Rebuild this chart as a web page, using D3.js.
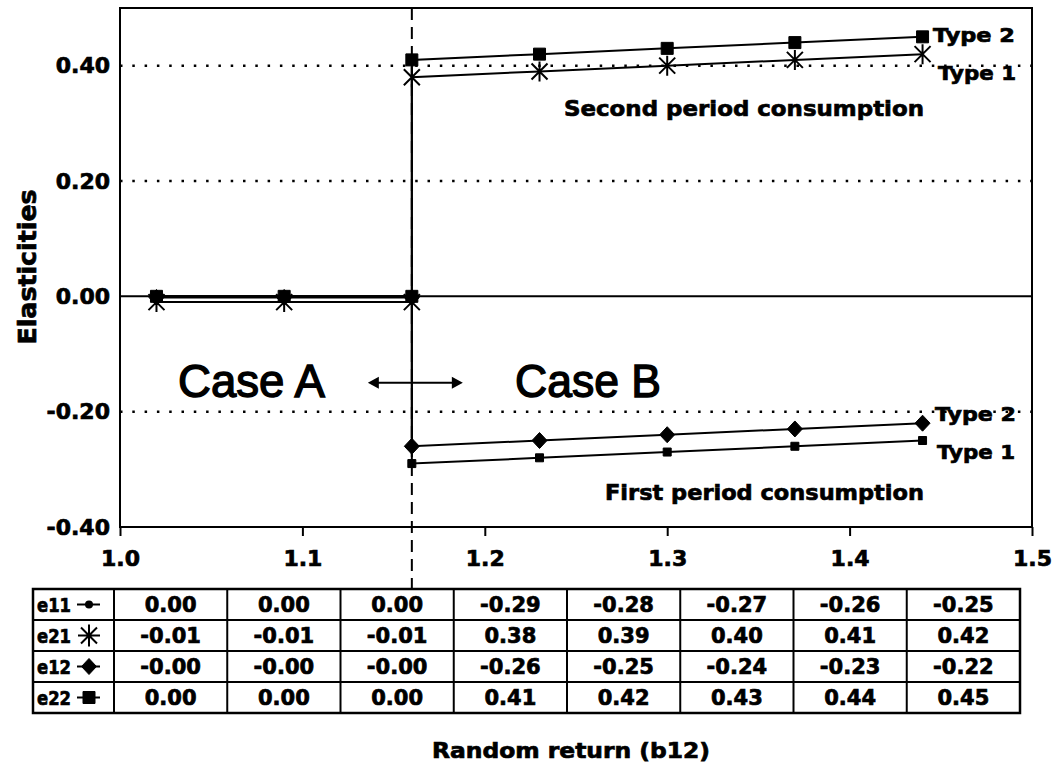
<!DOCTYPE html>
<html>
<head>
<meta charset="utf-8">
<script src="https://cdn.jsdelivr.net/npm/d3@7"></script>
<style>
  body { margin: 0; background: #fff; }
  svg { display: block; }
  text { font-family: "DejaVu Sans", sans-serif; font-weight: bold; fill: #000; stroke: #000; stroke-width: 0.7px; }
</style>
</head>
<body>
<svg id="chart" width="1054" height="773"></svg>
<script>
// Random return (b12) at which each elasticity is evaluated; 1.16 appears twice
// because the solution switches from Case A to Case B there.
const returns = [1.02, 1.09, 1.16, 1.16, 1.23, 1.30, 1.37, 1.44];

// Elasticities by series
const e11 = [0.00, 0.00, 0.00, -0.29, -0.28, -0.27, -0.26, -0.25];
const e21 = [-0.01, -0.01, -0.01, 0.38, 0.39, 0.40, 0.41, 0.42];
const e12 = [-0.002, -0.002, -0.002, -0.26, -0.25, -0.24, -0.23, -0.22];
const e22 = [0.00, 0.00, 0.00, 0.41, 0.42, 0.43, 0.44, 0.45];

const seriesNames = ["e11", "e21", "e12", "e22"];
const seriesValues = [e11, e21, e12, e22];
const seriesMarkers = ["smallSquare", "asterisk", "diamond", "square"];

const xTicks = [1.0, 1.1, 1.2, 1.3, 1.4, 1.5];
const yTicks = [-0.40, -0.20, 0.00, 0.20, 0.40];
const dottedGrid = [-0.20, 0.20, 0.40];
const caseBoundary = 1.16;

const svg = d3.select("#chart");

const plot = { left: 120, right: 1032, top: 8, bottom: 527 };
const x = d3.scaleLinear().domain([1.0, 1.5]).range([plot.left, plot.right]);
const y = d3.scaleLinear().domain([-0.4, 0.5]).range([plot.bottom, plot.top]);

// ---- marker shapes ----
function markerPath(kind) {
  switch (kind) {
    case "smallSquare": return "M-4,-4H4V4H-4Z";
    case "square": return "M-6,-6H6V6H-6Z";
    case "diamond": return "M0,-8L7.5,0L0,8L-7.5,0Z";
    case "asterisk": return "M0,-10V10M-8,-8L8,8M-8,8L8,-8";
    case "asterisk8": return "M0,-11V11M-11,0H11M-8,-8L8,8M-8,8L8,-8";
  }
}
function drawMarker(g, kind, cx, cy) {
  const stroked = kind === "asterisk" || kind === "asterisk8";
  g.append("path")
    .attr("d", markerPath(kind))
    .attr("transform", `translate(${cx},${cy})`)
    .attr("fill", stroked ? "none" : "#000")
    .attr("stroke", "#000")
    .attr("stroke-width", stroked ? 2 : 1);
}

// ---- gridlines ----
svg.append("g").selectAll("line").data(dottedGrid).join("line")
  .attr("x1", plot.left).attr("x2", plot.right)
  .attr("y1", d => y(d)).attr("y2", d => y(d))
  .attr("stroke", "#000").attr("stroke-width", 2.5)
  .attr("stroke-dasharray", "2.5,9.8");

// zero line
svg.append("line")
  .attr("x1", plot.left).attr("x2", plot.right)
  .attr("y1", y(0)).attr("y2", y(0))
  .attr("stroke", "#000").attr("stroke-width", 2);

// dashed boundary between the two cases, running down to the table
svg.append("line")
  .attr("x1", x(caseBoundary)).attr("x2", x(caseBoundary))
  .attr("y1", plot.top).attr("y2", 590)
  .attr("stroke", "#000").attr("stroke-width", 2)
  .attr("stroke-dasharray", "12,7");

// ---- frame ----
svg.append("rect")
  .attr("x", plot.left).attr("y", plot.top)
  .attr("width", plot.right - plot.left).attr("height", plot.bottom - plot.top)
  .attr("fill", "none").attr("stroke", "#000").attr("stroke-width", 2);

// ---- axes ----
const xAxis = svg.append("g")
  .attr("transform", `translate(0,${plot.bottom})`)
  .call(d3.axisBottom(x).tickValues(xTicks).tickFormat(d3.format(".1f"))
    .tickSize(9).tickSizeOuter(0).tickPadding(14));
xAxis.select(".domain").remove();
xAxis.selectAll("line").attr("stroke-width", 2);
xAxis.selectAll("text").attr("font-size", 22)
  .style("font-family", "DejaVu Sans").style("font-weight", "bold")
  .style("stroke", "#000").style("stroke-width", "0.7px");

const yAxis = svg.append("g")
  .attr("transform", `translate(${plot.left},0)`)
  .call(d3.axisLeft(y).tickValues(yTicks).tickFormat(d3.format(".2f"))
    .tickSize(0).tickPadding(10));
yAxis.select(".domain").remove();
yAxis.selectAll("text")
  .text(d => d.toFixed(2))
  .attr("font-size", 22)
  .style("font-family", "DejaVu Sans").style("font-weight", "bold")
  .style("stroke", "#000").style("stroke-width", "0.7px");

// ---- series lines and markers ----
const line = d3.line().x((d, i) => x(returns[i])).y(d => y(d));
const seriesG = svg.append("g");
seriesValues.forEach((vals) => {
  seriesG.append("path")
    .attr("d", line(vals))
    .attr("fill", "none").attr("stroke", "#000").attr("stroke-width", 2);
});
seriesValues.forEach((vals, s) => {
  vals.forEach((v, i) => drawMarker(seriesG, seriesMarkers[s], x(returns[i]), y(v)));
});

// ---- annotations ----
function label(txt, px, py, size, opts = {}) {
  const t = svg.append("text").attr("x", px).attr("y", py)
    .attr("font-size", size).text(txt);
  if (opts.anchor) t.attr("text-anchor", opts.anchor);
  if (opts.width) t.attr("textLength", opts.width).attr("lengthAdjust", "spacingAndGlyphs");
  if (opts.normal) t.style("font-weight", "normal").style("font-family", "Liberation Sans, Arial, sans-serif")
    .style("stroke-width", "1.4px");
  return t;
}

label("Type 2", 933, 42, 20, { width: 82 });
label("Type 1", 938, 80, 20, { width: 78 });
label("Type 2", 935, 421, 20, { width: 81 });
label("Type 1", 937, 459, 20, { width: 78 });
label("Second period consumption", 564, 116, 22, { width: 360 });
label("First period consumption", 605, 500, 22, { width: 319 });
label("Case A", 178, 397, 46, { normal: true, width: 147 });
label("Case B", 515, 397, 46, { normal: true, width: 146 });

// double-headed arrow across the case boundary
const arrowY = y(-0.15);
const ax0 = x(caseBoundary) - 44, ax1 = x(caseBoundary) + 51;
svg.append("line").attr("x1", ax0 + 8).attr("x2", ax1 - 8)
  .attr("y1", arrowY).attr("y2", arrowY)
  .attr("stroke", "#000").attr("stroke-width", 2);
svg.append("path")
  .attr("d", `M${ax0},${arrowY}L${ax0 + 11},${arrowY - 6}L${ax0 + 11},${arrowY + 6}Z` +
             `M${ax1},${arrowY}L${ax1 - 11},${arrowY - 6}L${ax1 - 11},${arrowY + 6}Z`)
  .attr("fill", "#000");

// axis titles
svg.append("text")
  .attr("transform", "translate(36,267) rotate(-90)")
  .attr("text-anchor", "middle").attr("font-size", 25)
  .attr("textLength", 155).attr("lengthAdjust", "spacingAndGlyphs")
  .text("Elasticities");
label("Random return (b12)", 571, 758, 21, { anchor: "middle", width: 278 });

// ---- data table ----
const table = { left: 33, labelRight: 114, right: 1020, top: 589, bottom: 713 };
const cols = d3.scaleBand().domain(d3.range(returns.length)).range([table.labelRight, table.right]);
const rows = d3.scaleBand().domain(seriesNames).range([table.top, table.bottom]);
const tg = svg.append("g");

// cell borders
tg.append("rect")
  .attr("x", table.left).attr("y", table.top)
  .attr("width", table.right - table.left).attr("height", table.bottom - table.top)
  .attr("fill", "none").attr("stroke", "#000").attr("stroke-width", 2.5);
tg.selectAll("line.v").data(d3.range(returns.length)).join("line")
  .attr("x1", i => cols(i)).attr("x2", i => cols(i))
  .attr("y1", table.top).attr("y2", table.bottom)
  .attr("stroke", "#000").attr("stroke-width", 2);
tg.selectAll("line.h").data(seriesNames.slice(1)).join("line")
  .attr("x1", table.left).attr("x2", table.right)
  .attr("y1", d => rows(d)).attr("y2", d => rows(d))
  .attr("stroke", "#000").attr("stroke-width", 2);

seriesNames.forEach((name, s) => {
  const cy = rows(name) + rows.bandwidth() / 2;
  tg.append("text").attr("x", 37).attr("y", cy + 7).attr("font-size", 19)
    .attr("textLength", 34).attr("lengthAdjust", "spacingAndGlyphs").text(name);
  // legend glyph
  const gx = 89;
  if (seriesMarkers[s] !== "asterisk") {
    tg.append("line").attr("x1", gx - 12).attr("x2", gx + 11)
      .attr("y1", cy).attr("y2", cy).attr("stroke", "#000").attr("stroke-width", 2);
  }
  if (seriesMarkers[s] === "smallSquare") {
    tg.append("circle").attr("cx", gx).attr("cy", cy).attr("r", 4).attr("fill", "#000");
  } else if (seriesMarkers[s] === "asterisk") {
    drawMarker(tg, "asterisk8", gx, cy);
  } else {
    drawMarker(tg, seriesMarkers[s], gx, cy);
  }
  seriesValues[s].forEach((v, i) => {
    tg.append("text")
      .attr("x", cols(i) + cols.bandwidth() / 2).attr("y", cy + 7.5)
      .attr("text-anchor", "middle").attr("font-size", 21)
      .text(v.toFixed(2));
  });
});
</script>
</body>
</html>
